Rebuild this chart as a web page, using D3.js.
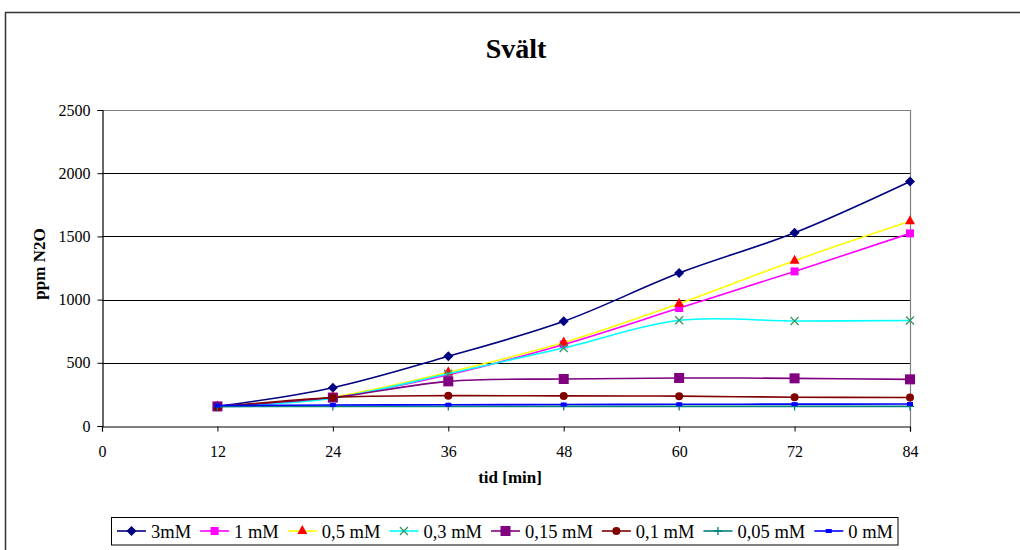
<!DOCTYPE html>
<html>
<head>
<meta charset="utf-8">
<script src="https://cdn.jsdelivr.net/npm/d3@7"></script>
<style>
  body { margin: 0; background: #fff; }
  svg text { font-family: "Liberation Serif", "Times New Roman", serif; }
</style>
</head>
<body>
<div id="chart"></div>
<script>
// --- data ---
const times = [12, 24, 36, 48, 60, 72, 84];
const seriesNames = ['3mM', '1 mM', '0,5 mM', '0,3 mM', '0,15 mM', '0,1 mM', '0,05 mM', '0 mM'];
const s3mM   = [155, 303, 551, 828, 1210, 1529, 1935];
const s1mM   = [155, 225, 405, 645, 933, 1223, 1524];
const s05mM  = [155, 230, 425, 660, 968, 1308, 1619];
const s03mM  = [155, 220, 414, 617, 836, 831, 835];
const s015mM = [155, 225, 353, 372, 380, 377, 369];
const s01mM  = [150, 226, 240, 238, 236, 228, 226];
const s005mM = [153, 155, 155, 155, 155, 155, 155];
const s0mM   = [162, 166, 168, 170, 172, 173, 174];
const xTicks = [0, 12, 24, 36, 48, 60, 72, 84];
const yTicks = [0, 500, 1000, 1500, 2000, 2500];

const lineColors   = ['#000080', '#FF00FF', '#FFFF00', '#00FFFF', '#800080', '#800000', '#008080', '#0000FF'];
const markerColors = ['#000080', '#FF00FF', '#FF0000', '#339966', '#800080', '#800000', '#008080', '#0000FF'];
const markerTypes  = ['diamond', 'square', 'triangle', 'x', 'bigsquare', 'circle', 'plus', 'dash'];

const allValues = [s3mM, s1mM, s05mM, s03mM, s015mM, s01mM, s005mM, s0mM];
const series = seriesNames.map((name, i) => ({
    name, line: lineColors[i], marker: markerColors[i], type: markerTypes[i],
    values: times.map((t, j) => ({ t, v: allValues[i][j] }))
}));

const W = 1020, H = 550;
const plot = { left: 102, right: 910, top: 110, bottom: 426 };

const svg = d3.select('#chart').append('svg').attr('width', W).attr('height', H);

// outer chart frame (runs past the window on right/bottom)
svg.append('rect')
    .attr('x', 5.5).attr('y', 12.5).attr('width', W + 20).attr('height', H + 20)
    .attr('fill', '#fff').attr('stroke', '#333').attr('stroke-width', 1.5);

const x = d3.scaleLinear().domain([0, 84]).range([plot.left, plot.right]);
const y = d3.scaleLinear().domain([0, 2500]).range([plot.bottom, plot.top]);

// gridlines
svg.append('g')
    .selectAll('line')
    .data(yTicks.filter(d => d > 0 && d < 2500))
    .enter().append('line')
    .attr('x1', plot.left).attr('x2', plot.right)
    .attr('y1', d => Math.round(y(d)) + 0.5).attr('y2', d => Math.round(y(d)) + 0.5)
    .attr('stroke', '#000').attr('stroke-width', 1);

// plot area border (top + right, grey)
svg.append('path')
    .attr('d', `M${plot.left},${Math.round(plot.top) + 0.5}H${plot.right + 0.5}V${plot.bottom}`)
    .attr('fill', 'none').attr('stroke', '#808080').attr('stroke-width', 1.2);

// axes
const yAxis = svg.append('g')
    .attr('transform', `translate(${plot.left + 0.5},0)`)
    .call(d3.axisLeft(y).tickValues(yTicks).tickSize(5).tickPadding(7).tickFormat(d3.format('d')));
const xAxis = svg.append('g')
    .attr('transform', `translate(0,${plot.bottom + 0.5})`)
    .call(d3.axisBottom(x).tickValues(xTicks).tickSize(5).tickPadding(14));
[xAxis, yAxis].forEach(a => {
    a.attr('font-family', null);
    a.select('.domain').attr('stroke', '#000').attr('stroke-width', 1.2);
    a.selectAll('.tick line').attr('stroke', '#000');
    a.selectAll('text')
        .style('font-size', '16px').attr('fill', '#000');
});

// lines (smoothed, as in the original)
const line = d3.line()
    .x(d => x(d.t)).y(d => y(d.v))
    .curve(d3.curveCatmullRom.alpha(0.5));

function drawMarker(g, type, color, cx, cy) {
    if (type === 'diamond') {
        g.append('path').attr('d', `M${cx},${cy - 5}L${cx + 5},${cy}L${cx},${cy + 5}L${cx - 5},${cy}Z`).attr('fill', color);
    } else if (type === 'square') {
        g.append('rect').attr('x', cx - 4).attr('y', cy - 4).attr('width', 8).attr('height', 8).attr('fill', color);
    } else if (type === 'bigsquare') {
        g.append('rect').attr('x', cx - 5).attr('y', cy - 5).attr('width', 10).attr('height', 10).attr('fill', color);
    } else if (type === 'triangle') {
        g.append('path').attr('d', `M${cx},${cy - 6}L${cx + 5},${cy + 3}L${cx - 5},${cy + 3}Z`).attr('fill', color);
    } else if (type === 'circle') {
        g.append('circle').attr('cx', cx).attr('cy', cy).attr('r', 4).attr('fill', color);
    } else if (type === 'x') {
        g.append('path').attr('d', `M${cx - 4},${cy - 4}L${cx + 4},${cy + 4}M${cx + 4},${cy - 4}L${cx - 4},${cy + 4}`)
            .attr('stroke', color).attr('stroke-width', 1.3).attr('fill', 'none');
    } else if (type === 'plus') {
        g.append('path').attr('d', `M${cx - 4},${cy}L${cx + 4},${cy}M${cx},${cy - 4}L${cx},${cy + 4}`)
            .attr('stroke', color).attr('stroke-width', 1.3).attr('fill', 'none');
    } else if (type === 'dash') {
        g.append('rect').attr('x', cx - 3).attr('y', cy - 2).attr('width', 6).attr('height', 4).attr('fill', color);
    }
}

series.forEach(s => {
    const g = svg.append('g').attr('class', 'series');
    g.append('path')
        .datum(s.values)
        .attr('d', line)
        .attr('fill', 'none')
        .attr('stroke', s.line)
        .attr('stroke-width', 1.6);
    s.values.forEach(d => drawMarker(g, s.type, s.marker, x(d.t), y(d.v)));
});

// title and axis labels
svg.append('text')
    .attr('x', 516).attr('y', 58)
    .attr('text-anchor', 'middle')
    .style('font-size', '28px').style('font-weight', 'bold')
    .text('Svält');

svg.append('text')
    .attr('transform', 'rotate(-90)')
    .attr('x', -264).attr('y', 45)
    .attr('text-anchor', 'middle')
    .style('font-size', '17px').style('font-weight', 'bold')
    .text('ppm N2O');

svg.append('text')
    .attr('x', 510).attr('y', 483)
    .attr('text-anchor', 'middle')
    .style('font-size', '17px').style('font-weight', 'bold')
    .text('tid [min]');

// legend
const legend = svg.append('g').attr('class', 'legend');
const legBox = legend.append('rect')
    .attr('x', 111.5).attr('y', 517.5).attr('height', 27.5)
    .attr('fill', '#fff').attr('stroke', '#000').attr('stroke-width', 1);

let lx = 117;
const ly = 531;
series.forEach(s => {
    const item = legend.append('g');
    item.append('line')
        .attr('x1', lx).attr('x2', lx + 29).attr('y1', ly).attr('y2', ly)
        .attr('stroke', s.line).attr('stroke-width', 1.6);
    drawMarker(item, s.type, s.marker, lx + 14.5, ly);
    const t = item.append('text')
        .attr('x', lx + 34).attr('y', ly + 7)
        .style('font-size', '18.5px')
        .text(s.name);
    lx = lx + 34 + t.node().getComputedTextLength() + 9;
});
legBox.attr('width', lx - 9 + 5 - 111.5);
</script>
</body>
</html>
